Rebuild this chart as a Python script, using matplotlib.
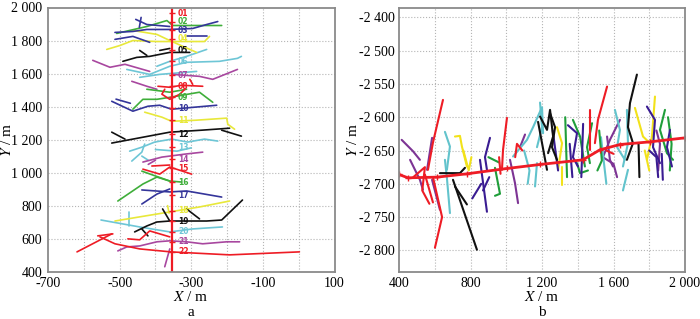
import matplotlib
matplotlib.use('Agg')
import matplotlib.pyplot as plt
from matplotlib.ticker import FixedLocator

plt.rcParams['font.family'] = ['Liberation Serif', 'DejaVu Serif']
plt.rcParams['mathtext.fontset'] = 'stix'

# ---- panel a : plan of the levels, (x, y) in m ----
shaft_x = -355
shaft_y = [400, 2000]

level_names = ['01', '02', '03', '04', '05', '06', '07', '08', '09', '10', '11',
               '12', '13', '14', '15', '16', '17', '18', '19', '20', '21', '22']
level_y = [1964, 1915, 1861, 1810, 1740, 1674, 1589, 1523, 1456, 1390, 1317,
           1233, 1154, 1082, 1027, 943, 864, 768, 707, 641, 581, 520]
level_colors = ['red', 'green', 'blue', 'yellow', 'black', 'cyan', 'purple'] * 4

a_xticks = [-700, -500, -300, -100, 100]
a_xlabels = ['-700', '-500', '-300', '-100', '100']
a_yticks = [400, 600, 800, 1000, 1200, 1400, 1600, 1800, 2000]
a_ylabels = ['400', '600', '800', '1 000', '1 200', '1 400', '1 600', '1 800', '2 000']

a_red = [
    [(-619, 520), (-522, 629)],
    [(-561, 617), (-519, 629)],
    [(-555, 611), (-513, 569), (-444, 538), (-357, 520), (-193, 502), (2, 520)],
    [(-477, 599), (-444, 593), (-416, 647), (-360, 611)],
    [(-435, 1021), (-388, 991), (-360, 1034), (-299, 991)],
    [(-410, 1040), (-360, 1046)],
    [(-393, 1523), (-360, 1517), (-327, 1529), (-268, 1523)],
    [(-374, 1505), (-382, 1475), (-360, 1444), (-332, 1475), (-318, 1505)],
    [(-304, 1565), (-296, 1535)],
]
a_green = [
    [(-508, 1843), (-424, 1885), (-368, 1921), (-352, 1891), (-215, 1891)],
    [(-463, 1384), (-435, 1444), (-396, 1444), (-360, 1456), (-277, 1487), (-240, 1426)],
    [(-424, 1505), (-360, 1487), (-313, 1505)],
    [(-505, 828), (-435, 931), (-396, 973), (-360, 949), (-327, 943)],
    [(-438, 1009), (-360, 949)],
]
a_blue = [
    [(-455, 1928), (-424, 1897), (-360, 1885)],
    [(-440, 1940), (-445, 1880)],
    [(-513, 1849), (-463, 1855), (-424, 1867), (-360, 1867), (-296, 1873), (-257, 1897), (-226, 1915)],
    [(-513, 1807), (-463, 1825), (-416, 1789)],
    [(-313, 1825), (-257, 1825)],
    [(-522, 1432), (-463, 1372), (-421, 1402), (-388, 1408), (-355, 1384), (-229, 1408)],
    [(-510, 1445), (-470, 1420)],
    [(-438, 895), (-360, 883), (-313, 889), (-215, 852)],
    [(-438, 810), (-396, 870), (-360, 901)],
]
a_yellow = [
    [(-536, 1746), (-499, 1770), (-463, 1800), (-396, 1794), (-360, 1794), (-263, 1794), (-249, 1825)],
    [(-463, 1861), (-396, 1837), (-360, 1800)],
    [(-360, 1800), (-285, 1728)],
    [(-430, 1366), (-382, 1336), (-355, 1311), (-290, 1317), (-201, 1330), (-198, 1293), (-179, 1263)],
    [(-513, 707), (-444, 732), (-360, 762), (-277, 792), (-193, 828)],
    [(-362, 755), (-366, 800)],
]
a_black = [
    [(-491, 1674), (-452, 1698), (-416, 1704), (-360, 1728), (-304, 1728)],
    [(-444, 1740), (-424, 1710)],
    [(-388, 1740), (-360, 1752)],
    [(-522, 1179), (-360, 1245), (-271, 1257), (-193, 1269)],
    [(-522, 1245), (-485, 1203)],
    [(-215, 1257), (-160, 1221)],
    [(-458, 641), (-424, 677), (-396, 701), (-360, 707), (-313, 707), (-257, 707), (-215, 713), (-157, 834)],
    [(-380, 780), (-360, 707)],
    [(-313, 780), (-277, 720)],
    [(-438, 659), (-421, 617)],
]
a_cyan = [
    [(-480, 1625), (-416, 1595), (-360, 1644), (-313, 1668), (-221, 1674), (-171, 1692), (-160, 1704)],
    [(-396, 1644), (-360, 1674), (-313, 1704), (-257, 1746)],
    [(-444, 1577), (-388, 1595), (-285, 1613)],
    [(-472, 1130), (-438, 1154), (-402, 1185), (-355, 1203), (-310, 1185), (-263, 1203), (-226, 1191)],
    [(-466, 1070), (-438, 1124), (-430, 1173)],
    [(-400, 1140), (-340, 1130), (-300, 1150)],
    [(-552, 713), (-444, 671), (-360, 641), (-296, 659), (-213, 671)],
    [(-474, 762), (-474, 677)],
    [(-438, 1100), (-420, 1075)],
]
a_purple = [
    [(-352, 1595), (-277, 1583), (-240, 1565), (-171, 1625)],
    [(-575, 1680), (-527, 1638), (-485, 1656), (-416, 1613)],
    [(-466, 1553), (-424, 1523), (-396, 1505)],
    [(-435, 1064), (-382, 1094), (-318, 1112), (-268, 1124)],
    [(-420, 1050), (-400, 1075)],
    [(-505, 526), (-480, 550), (-444, 556), (-396, 581), (-360, 587), (-313, 581), (-268, 569), (-201, 581), (-165, 581)],
    [(-374, 430), (-360, 538)],
]

# ---- panel b : section view, (x, y) in m ----
b_xticks = [400, 800, 1200, 1600, 2000]
b_xlabels = ['400', '800', '1 200', '1 600', '2 000']
b_yticks = [-2800, -2750, -2700, -2650, -2600, -2550, -2500, -2450]
b_ylabels = ['-2 800', '-2 750', '-2 700', '-2 650', '-2 600', '-2 550', '-2 500', '-2 400']

b_main = [(400, -2686), (450, -2691), (612, -2690), (780, -2685), (1004, -2677),
          (1189, -2671), (1429, -2664), (1524, -2649), (1636, -2641), (1804, -2637), (2000, -2631)]

b_red = [
    [(646, -2574), (590, -2638), (562, -2679)],
    [(1004, -2601), (982, -2649), (976, -2679)],
    [(960, -2660), (968, -2685)],
    [(590, -2690), (641, -2750), (601, -2796)],
    [(545, -2686), (590, -2728)],
    [(480, -2690), (545, -2675), (530, -2710), (570, -2730)],
    [(1564, -2554), (1513, -2604), (1496, -2639)],
    [(1468, -2589), (1468, -2649)],
    [(1560, -2650), (1600, -2655)],
    [(1050, -2660), (1060, -2640), (1090, -2650)],
]
b_green = [
    [(937, -2676), (965, -2715), (937, -2718)],
    [(900, -2660), (960, -2668)],
    [(1373, -2604), (1413, -2629), (1440, -2674)],
    [(1480, -2609), (1452, -2645), (1468, -2669)],
    [(1396, -2669), (1413, -2684), (1457, -2680)],
    [(1888, -2589), (1860, -2619), (1899, -2654), (1933, -2664)],
    [(1330, -2600), (1340, -2690)],
    [(1520, -2620), (1535, -2665), (1510, -2680)],
    [(1905, -2600), (1925, -2640), (1915, -2680)],
]
b_indigo = [
    [(909, -2631), (881, -2660), (892, -2679)],
    [(853, -2664), (892, -2742)],
    [(810, -2722), (860, -2700)],
    [(870, -2710), (905, -2690)],
    [(1345, -2612), (1396, -2624), (1373, -2660), (1401, -2674)],
    [(1787, -2584), (1832, -2604), (1821, -2645), (1860, -2669)],
    [(1916, -2619), (1899, -2645), (1927, -2674)],
    [(1870, -2655), (1876, -2694)],
    [(1260, -2620), (1290, -2680)],
    [(1430, -2610), (1420, -2690)],
    [(1355, -2640), (1370, -2690)],
    [(1800, -2650), (1840, -2660), (1850, -2690)],
]
b_yellow = [
    [(713, -2629), (741, -2628), (752, -2644), (780, -2674)],
    [(760, -2650), (790, -2680), (805, -2660)],
    [(1284, -2615), (1312, -2639), (1290, -2679)],
    [(1312, -2675), (1312, -2702)],
    [(1720, -2586), (1765, -2629), (1804, -2639)],
    [(1832, -2569), (1815, -2629), (1787, -2664)],
    [(1775, -2650), (1800, -2680)],
]
b_black = [
    [(1178, -2607), (1228, -2679)],
    [(1189, -2599), (1228, -2619), (1245, -2589), (1262, -2629), (1234, -2654)],
    [(1245, -2594), (1273, -2615), (1256, -2645), (1284, -2664)],
    [(1731, -2536), (1692, -2579), (1681, -2615), (1709, -2639), (1675, -2664)],
    [(1740, -2640), (1745, -2690)],
    [(702, -2694), (836, -2799)],
    [(713, -2704), (780, -2731)],
    [(629, -2684), (741, -2684), (769, -2676)],
]
b_cyan = [
    [(657, -2622), (685, -2644), (668, -2679)],
    [(657, -2664), (668, -2691), (685, -2744)],
    [(1189, -2578), (1200, -2615), (1172, -2645)],
    [(1038, -2659), (1116, -2634), (1150, -2615), (1200, -2585), (1206, -2624)],
    [(1172, -2669), (1161, -2704)],
    [(1608, -2589), (1636, -2619), (1620, -2645), (1664, -2664)],
    [(1675, -2589), (1681, -2639), (1653, -2674)],
    [(1653, -2710), (1681, -2679)],
    [(1530, -2630), (1560, -2700)],
    [(1100, -2650), (1130, -2680), (1120, -2700)],
]
b_purple = [
    [(415, -2634), (478, -2651), (517, -2664)],
    [(585, -2631), (557, -2679)],
    [(462, -2664), (517, -2694), (534, -2709)],
    [(585, -2694), (629, -2739)],
    [(1021, -2664), (1049, -2699), (1066, -2729)],
    [(1105, -2626), (1077, -2645)],
    [(1564, -2629), (1580, -2664), (1597, -2674)],
    [(1636, -2604), (1580, -2634), (1541, -2660)],
    [(1540, -2660), (1600, -2670), (1620, -2690)],
    [(1840, -2620), (1860, -2640), (1850, -2680)],
]

colors_a = {'red': '#ee1c25', 'green': '#3fae3a', 'blue': '#34359a', 'yellow': '#e8e83a',
            'black': '#111111', 'cyan': '#6ec6d6', 'purple': '#a8479f'}
colors_b = {'red': '#ee1c25', 'green': '#1f9e3a', 'indigo': '#3a1c92', 'yellow': '#f2e21a',
            'black': '#111111', 'cyan': '#62c3cc', 'purple': '#7d3494'}


def draw(ax, lines, color, lw):
    for ln in lines:
        xs, ys = zip(*ln)
        ax.plot(xs, ys, color=color, lw=lw, solid_capstyle='round')


def style(ax, xgrid, ygrid):
    # dotted grid drawn at every grid position, labels only on the ticks
    for x in xgrid:
        ax.axvline(x, ls=':', color='#b5b5b5', lw=0.8, zorder=0)
    for y in ygrid:
        ax.axhline(y, ls=':', color='#b5b5b5', lw=0.8, zorder=0)
    for s in ax.spines.values():
        s.set_color('#8a8a8a')
        s.set_linewidth(1.3)
    ax.tick_params(which='both', length=0, labelsize=10, pad=4)


fig = plt.figure(figsize=(7.0, 3.19), dpi=100)
ax1 = fig.add_axes([48 / 700, 47.3 / 319, 286.5 / 700, 264.2 / 319])
ax2 = fig.add_axes([399 / 700, 47.3 / 319, 286 / 700, 263.7 / 319])

# panel a
lw_a = 1.2
draw(ax1, a_cyan, colors_a['cyan'], lw_a)
draw(ax1, a_purple, colors_a['purple'], lw_a)
draw(ax1, a_yellow, colors_a['yellow'], lw_a)
draw(ax1, a_green, colors_a['green'], lw_a)
draw(ax1, a_blue, colors_a['blue'], lw_a)
draw(ax1, a_black, colors_a['black'], lw_a)
draw(ax1, a_red, colors_a['red'], lw_a)
ax1.plot([shaft_x, shaft_x], shaft_y, color=colors_a['red'], lw=1.6)
ax1.plot([shaft_x] * len(level_y), level_y, ls='none', marker='_', ms=5,
         mew=1.0, color=colors_a['red'])
for name, y, c in zip(level_names, level_y, level_colors):
    ax1.text(shaft_x + 18, y, name, color=colors_a[c], fontsize=5.5,
             fontweight='bold', family='DejaVu Sans', va='center', ha='left')

ax1.set_xlim(-700, 100)
ax1.set_ylim(400, 2000)
ax1.xaxis.set_major_locator(FixedLocator(a_xticks))
ax1.yaxis.set_major_locator(FixedLocator(a_yticks))
ax1.set_xticklabels(a_xlabels)
ax1.set_yticklabels(a_ylabels)
style(ax1, range(-600, 100, 100), a_yticks[1:-1])

# panel b
lw_b = 1.5
draw(ax2, b_purple, colors_b['purple'], lw_b)
draw(ax2, b_cyan, colors_b['cyan'], lw_b)
draw(ax2, b_yellow, colors_b['yellow'], lw_b)
draw(ax2, b_green, colors_b['green'], lw_b)
draw(ax2, b_indigo, colors_b['indigo'], lw_b)
draw(ax2, b_black, colors_b['black'], lw_b)
draw(ax2, b_red, colors_b['red'], lw_b)
mx, my = zip(*b_main)
ax2.plot(mx, my, color=colors_b['red'], lw=2.0, marker='+', ms=4, mew=1.0)

ax2.set_xlim(400, 2000)
ax2.set_ylim(-2832, -2436)
ax2.xaxis.set_major_locator(FixedLocator(b_xticks))
ax2.yaxis.set_major_locator(FixedLocator(b_yticks))
ax2.set_xticklabels(b_xlabels)
ax2.set_yticklabels(b_ylabels)
style(ax2, range(600, 2000, 200), b_yticks)
ax2.tick_params(axis='y', pad=3)

# axis titles and panel letters
fig.text(191 / 700, 1 - 297 / 319, '$X$ / m', fontsize=11, ha='center', va='center')
fig.text(542 / 700, 1 - 297 / 319, '$X$ / m', fontsize=11, ha='center', va='center')
fig.text(7 / 700, 1 - 140 / 319, '$Y$ / m', fontsize=11, ha='center', va='center', rotation=90)
fig.text(353 / 700, 1 - 140 / 319, '$Y$ / m', fontsize=11, ha='center', va='center', rotation=90)
fig.text(191 / 700, 1 - 312 / 319, 'a', fontsize=11, ha='center', va='center')
fig.text(542 / 700, 1 - 312 / 319, 'b', fontsize=11, ha='center', va='center')

fig.savefig('out.png', dpi=100)
